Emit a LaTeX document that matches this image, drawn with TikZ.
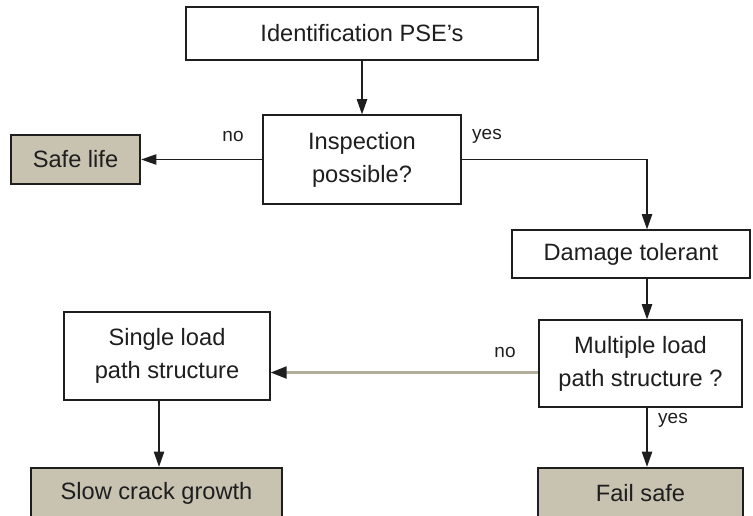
\documentclass[tikz,border=0pt]{standalone}
\usepackage{fontspec}
\setmainfont{Liberation Sans}
\usetikzlibrary{arrows.meta}
\definecolor{Sand}{HTML}{C8C2B0}
\definecolor{Taupe}{HTML}{B3AE9C}
\definecolor{Ink}{HTML}{1E1E1E}
\tikzset{
  box/.style={draw=Ink,line width=0.9pt,fill=white,align=center,inner sep=0pt,text=Ink,font=\fontsize{16.8}{23.5}\selectfont},
  endbox/.style={box,fill=Sand,line width=1.7pt},
  lab/.style={text=Ink,font=\fontsize{13.5}{16}\selectfont},
  arr/.style={draw=Ink,line width=0.9pt,-{Triangle[length=3.8mm,width=2.6mm]}}
}

\begin{document}
\begin{tikzpicture}[x=0.025cm,y=-0.025cm]
    \useasboundingbox (0,0) rectangle (753,515);
    \clip (0,0) rectangle (753,515);

    \node[box,minimum width=8.8cm,minimum height=1.325cm] (ident) at (362,33.5) {Identification PSE's};
    \node[box,minimum width=4.95cm,minimum height=2.225cm] (insp) at (362,159.5) {Inspection\\possible?};
    \node[endbox,minimum width=3.225cm,minimum height=1.225cm] (safe) at (75.5,159.5) {Safe life};
    \node[box,minimum width=5.95cm,minimum height=1.2cm] (dmg) at (631,254) {Damage tolerant};
    \node[box,minimum width=5.075cm,minimum height=2.175cm] (multi) at (640.5,363.5) {Multiple load\\path structure ?};
    \node[box,minimum width=5.15cm,minimum height=2.2cm] (single) at (167,356) {Single load\\path structure};
    \node[endbox,minimum width=6.275cm,minimum height=1.25cm] (slow) at (156.5,493) {Slow crack growth};
    \node[endbox,minimum width=5.125cm,minimum height=1.25cm] (fail) at (640.5,493) {Fail safe};

    \coordinate (rcol) at (647,0);
    \coordinate (lcol) at (159,0);

    \draw[arr] (ident) -- (insp);
    \draw[arr] (insp.west) -- (safe.east);
    \draw[arr] (insp.east) -| (rcol |- dmg.north);
    \draw[arr] (rcol |- dmg.south) -- (rcol |- multi.north);
    \draw[arr] (rcol |- multi.south) -- (rcol |- fail.north);
    \draw[arr,draw=Taupe,line width=1.6pt,-{Triangle[length=4mm,width=3mm,color=Ink]}] ([yshift=-0.225cm]multi.west) -- ([yshift=-0.225cm]multi.west -| single.east);
    \draw[arr] (lcol |- single.south) -- (lcol |- slow.north);

    \node[lab] (no1) at (233,136) {no};
    \node[lab] (yes1) at (487,136) {yes};
    \node[lab] (no2) at (505,352) {no};
    \node[lab] (yes2) at (673,420) {yes};
\end{tikzpicture}
\end{document}
